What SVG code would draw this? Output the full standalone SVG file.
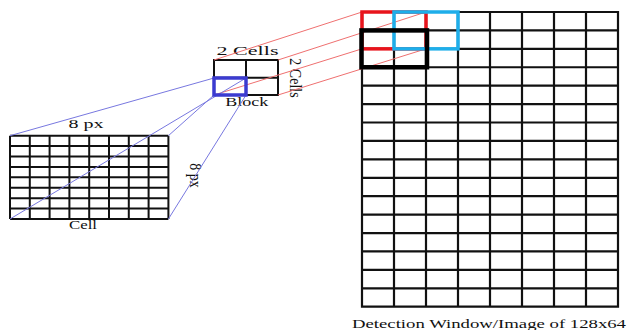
<svg xmlns="http://www.w3.org/2000/svg" width="628" height="330" viewBox="0 0 628 330">
<style>
.grid{fill:none;stroke:#111;stroke-width:2.2;stroke-linecap:square}
.cgrid{fill:none;stroke:#111;stroke-width:2}
.lbl{font-family:"Liberation Serif","Times New Roman",serif;font-size:13px;fill:#111}
.rot{font-size:14px}
.redl{stroke:#ef7070;stroke-width:1;fill:none}
.bluel{stroke:#7878e0;stroke-width:1;fill:none}
</style>
<rect width="628" height="330" fill="#fff"/>

<g id="cell">
<path class="cgrid" d="M10 135.7V219M29.8 135.7V219M49.6 135.7V219M69.4 135.7V219M89.2 135.7V219M109 135.7V219M128.8 135.7V219M148.6 135.7V219M168.4 135.7V219
M10 135.7H168.4M10 146.1H168.4M10 156.5H168.4M10 166.9H168.4M10 177.3H168.4M10 187.8H168.4M10 198.2H168.4M10 208.6H168.4M10 219H168.4"/>
<text class="lbl" x="86" y="128" text-anchor="middle" textLength="35" lengthAdjust="spacingAndGlyphs">8 px</text>
<text class="lbl" x="83" y="229" text-anchor="middle" textLength="28" lengthAdjust="spacingAndGlyphs">Cell</text>
<text class="lbl rot" transform="translate(189.5,175.5) rotate(90) scale(1,1.2)" text-anchor="middle">8 px</text>
</g>

<g id="window">
<path class="grid" d="M362 12V306.7M394 12V306.7M426 12V306.7M458 12V306.7M490 12V306.7M522 12V306.7M554 12V306.7M586 12V306.7M618 12V306.7
M362 12H618M362 30.42H618M362 48.84H618M362 67.26H618M362 85.68H618M362 104.1H618M362 122.52H618M362 140.94H618M362 159.36H618M362 177.78H618M362 196.2H618M362 214.62H618M362 233.04H618M362 251.46H618M362 269.88H618M362 288.3H618M362 306.72H618"/>
<text class="lbl" x="352" y="327.5" textLength="274" lengthAdjust="spacingAndGlyphs">Detection Window/Image of 128x64</text>
</g>

<g id="block">
<path class="cgrid" d="M214 60H278V95H214ZM246 60V95M214 77.7H278"/>
<text class="lbl" x="247.5" y="55" text-anchor="middle" textLength="62" lengthAdjust="spacingAndGlyphs">2 Cells</text>
<text class="lbl" x="246.7" y="106" text-anchor="middle" textLength="43" lengthAdjust="spacingAndGlyphs">Block</text>
<text class="lbl rot" transform="translate(290,78) rotate(90) scale(1,1.15)" text-anchor="middle">2 Cells</text>
</g>

<g id="connectors">
<path class="redl" d="M214 60L362 12M278 60L426 12M214 95L362 48.84M278 95L426 48.84"/>
<path class="bluel" d="M214 78L10 135.7M246 78L10 219M214 95L168.4 135.7M246 95L168.4 219"/>
</g>

<g id="block-highlight">
<rect x="214" y="78" width="32" height="17" fill="none" stroke="#3b3bd0" stroke-width="3.5"/>
</g>

<g id="window-highlights">
<rect x="362" y="12" width="64" height="36.84" fill="none" stroke="#e8141c" stroke-width="3.5"/>
<rect x="394" y="12" width="64" height="36.84" fill="none" stroke="#1eaeea" stroke-width="3.5"/>
<rect x="361.5" y="30.42" width="65.5" height="36.84" fill="none" stroke="#000" stroke-width="4.5"/>
</g>
</svg>
